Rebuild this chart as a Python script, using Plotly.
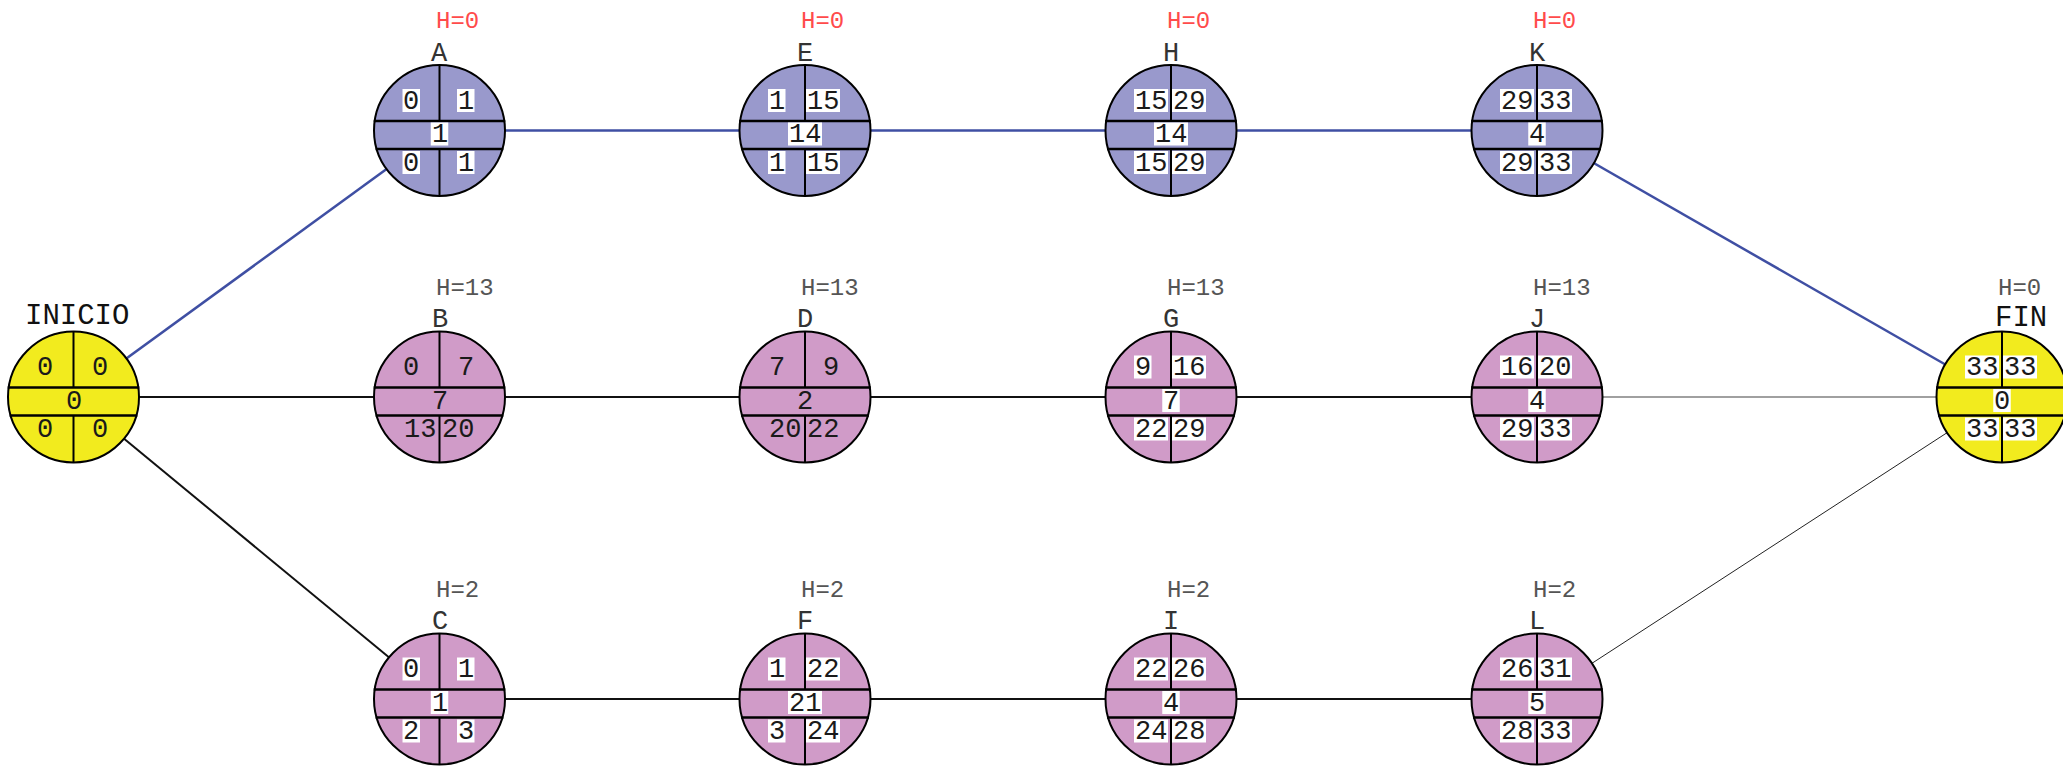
import plotly.graph_objects as go

# ---------------- data ----------------
names = ["INICIO", "A", "B", "C", "D", "E", "F", "G", "H", "I", "J", "K", "L", "FIN"]
duration = [0, 1, 7, 1, 2, 14, 21, 7, 14, 4, 4, 4, 5, 0]
early_start = [0, 0, 0, 0, 7, 1, 1, 9, 15, 22, 16, 29, 26, 33]
early_finish = [0, 1, 7, 1, 9, 15, 22, 16, 29, 26, 20, 33, 31, 33]
late_start = [0, 0, 13, 2, 20, 1, 3, 22, 15, 24, 29, 29, 28, 33]
late_finish = [0, 1, 20, 3, 22, 15, 24, 29, 29, 28, 33, 33, 33, 33]
slack = [None, 0, 13, 2, 13, 0, 2, 13, 0, 2, 13, 0, 2, 0]

edge_from = ["INICIO", "INICIO", "INICIO", "A", "E", "H", "K", "B", "D", "G", "J", "C", "F", "I", "L"]
edge_to = ["A", "B", "C", "E", "H", "K", "FIN", "D", "G", "J", "FIN", "F", "I", "L", "FIN"]
edge_kind = ["crit", "norm", "norm", "crit", "crit", "crit", "crit", "norm", "norm", "norm",
             "thin_gray", "norm", "norm", "norm", "thin"]

# ---------------- layout (positions / styles) ----------------
grid = {"INICIO": (0, 1), "A": (1, 0), "E": (2, 0), "H": (3, 0), "K": (4, 0),
        "B": (1, 1), "D": (2, 1), "G": (3, 1), "J": (4, 1),
        "C": (1, 2), "F": (2, 2), "I": (3, 2), "L": (4, 2), "FIN": (5, 1)}
col_x = [73.5, 439.5, 805, 1171, 1537, 2002]
row_y = [130.5, 397, 699]
R = 65.5
BAND_TOP, BAND_BOT = -9.5, 18.5
ROW_DY = (-30, 3.5, 32)
CHAR_W = 16.5
BOX_H = 23

W, H = 2063, 766
FONT = "Liberation Mono"
BLUE_FILL = "#9999CC"
PINK_FILL = "#D09BC8"
YELLOW_FILL = "#F2EB1E"
CRIT_LINE = "#3F4FA3"
no_box = {"INICIO", "B", "D"}

pos = {n: (col_x[grid[n][0]], row_y[grid[n][1]]) for n in names}

fig = go.Figure()
shapes = []
annotations = []

edge_style = {
    "crit": dict(color=CRIT_LINE, width=2.5),
    "norm": dict(color="#111111", width=2),
    "thin_gray": dict(color="#808080", width=1.3),
    "thin": dict(color="#222222", width=1),
}
for a, b, k in zip(edge_from, edge_to, edge_kind):
    x0, y0 = pos[a]
    x1, y1 = pos[b]
    shapes.append(dict(type="line", xref="x", yref="y", x0=x0, y0=y0, x1=x1, y1=y1,
                       line=edge_style[k], layer="below"))

for i, n in enumerate(names):
    cx, cy = pos[n]
    if n in ("INICIO", "FIN"):
        fill = YELLOW_FILL
    elif slack[i] == 0:
        fill = BLUE_FILL
    else:
        fill = PINK_FILL
    shapes.append(dict(type="circle", xref="x", yref="y", x0=cx - R, x1=cx + R,
                       y0=cy - R, y1=cy + R, fillcolor=fill,
                       line=dict(color="black", width=2), layer="above"))
    # vertical divider (top and bottom halves only)
    shapes.append(dict(type="line", xref="x", yref="y", x0=cx, x1=cx, y0=cy - R, y1=cy + BAND_TOP,
                       line=dict(color="black", width=2), layer="above"))
    shapes.append(dict(type="line", xref="x", yref="y", x0=cx, x1=cx, y0=cy + BAND_BOT, y1=cy + R,
                       line=dict(color="black", width=2), layer="above"))
    for dy in (BAND_TOP, BAND_BOT):
        half = (R * R - dy * dy) ** 0.5
        shapes.append(dict(type="line", xref="x", yref="y", x0=cx - half - 1, x1=cx + half + 1,
                           y0=cy + dy, y1=cy + dy,
                           line=dict(color="black", width=2.5), layer="above"))

    cells = [
        (early_start[i], "left", ROW_DY[0]),
        (early_finish[i], "right", ROW_DY[0]),
        (duration[i], "center", ROW_DY[1]),
        (late_start[i], "left", ROW_DY[2]),
        (late_finish[i], "right", ROW_DY[2]),
    ]
    for val, where, dy in cells:
        txt = str(val)
        w = CHAR_W * len(txt) + 1
        if where == "left":
            x0 = cx - 37
            x1 = x0 + w
        elif where == "right":
            x1 = cx + 35
            x0 = x1 - w
        else:
            x0 = cx - w / 2
            x1 = cx + w / 2
        yc = cy + dy
        if n not in no_box:
            shapes.append(dict(type="rect", xref="x", yref="y", x0=x0, x1=x1,
                               y0=yc - BOX_H / 2, y1=yc + BOX_H / 2,
                               fillcolor="white", line=dict(width=0), layer="above"))
        annotations.append(dict(x=(x0 + x1) / 2, y=yc + 1, xref="x", yref="y", text=txt,
                                showarrow=False, xanchor="center", yanchor="middle",
                                font=dict(family=FONT, size=27, color="#1a1a1a")))

    # name label
    if n == "INICIO":
        annotations.append(dict(x=cx + 3, y=cy - 81, xref="x", yref="y", text=n, showarrow=False,
                                xanchor="center", yanchor="middle",
                                font=dict(family=FONT, size=29, color="#111111")))
    elif n == "FIN":
        annotations.append(dict(x=cx + 19, y=cy - 79, xref="x", yref="y", text=n, showarrow=False,
                                xanchor="center", yanchor="middle",
                                font=dict(family=FONT, size=29, color="#111111")))
    else:
        annotations.append(dict(x=cx, y=cy - 77, xref="x", yref="y", text=n, showarrow=False,
                                xanchor="center", yanchor="middle",
                                font=dict(family=FONT, size=27, color="#333333")))
    if slack[i] is not None:
        hcol = "#FF4B4B" if (slack[i] == 0 and n != "FIN") else "#555555"
        annotations.append(dict(x=cx - 6, y=cy - 109, xref="x", yref="y",
                                text="H=%d" % slack[i], showarrow=False,
                                xanchor="left", yanchor="middle",
                                font=dict(family=FONT, size=24, color=hcol)))

fig.add_trace(go.Scatter(x=[pos[n][0] for n in names], y=[pos[n][1] for n in names],
                         mode="markers", marker=dict(opacity=0), hoverinfo="skip",
                         showlegend=False))

fig.update_layout(
    width=W, height=H, margin=dict(l=0, r=0, t=0, b=0),
    plot_bgcolor="white", paper_bgcolor="white", showlegend=False,
    xaxis=dict(range=[0, W], visible=False, fixedrange=True),
    yaxis=dict(range=[H, 0], visible=False, fixedrange=True),
    shapes=shapes, annotations=annotations,
)

fig.write_html("out.html", config={"displayModeBar": False},
               post_script="document.body.style.margin='0';document.body.style.overflow='hidden';")
